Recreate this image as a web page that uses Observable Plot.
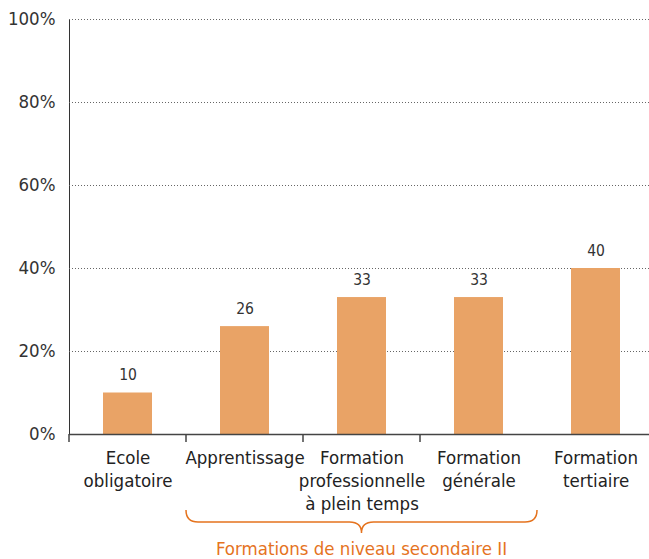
<!DOCTYPE html>
<html>
<head>
<meta charset="utf-8">
<script src="https://cdn.jsdelivr.net/npm/d3@7"></script>
<script src="https://cdn.jsdelivr.net/npm/@observablehq/plot@0.6"></script>
<style>
  html, body { margin: 0; padding: 0; background: #fff; }
  #chart svg { display: block; }
</style>
</head>
<body>
<div id="chart"></div>
<script>
const categories = [
  "Ecole\nobligatoire",
  "Apprentissage",
  "Formation\nprofessionnelle\nà plein temps",
  "Formation\ngénérale",
  "Formation\ntertiaire"
];
const values = [10, 26, 33, 33, 40];
const yTicks = [0, 20, 40, 60, 80, 100];
const groupLabel = "Formations de niveau secondaire II";
const groupFirst = categories[1];
const groupLast = categories[3];

const FONT = '"DejaVu Sans Condensed", "Liberation Sans Narrow", "Liberation Sans", sans-serif';
const BAR = "#E9A366";
const ORANGE = "#E5731E";

const rows = categories.map((c, i) => ({cat: c, value: values[i]}));

const plot = Plot.plot({
  width: 649,
  height: 559,
  marginLeft: 69,
  marginRight: 0,
  marginTop: 19,
  marginBottom: 125,
  style: {fontFamily: FONT, fontSize: "18.5px", color: "#333", background: "#fff"},
  x: {domain: categories, range: [69, 654], padding: 0, axis: null},
  y: {domain: [0, 100], ticks: yTicks, tickFormat: d => d + "%", tickSize: 0, tickPadding: 14, label: null, line: true},
  marks: [
    Plot.ruleY(yTicks.slice(1), {stroke: "#666", strokeDasharray: "1,2", strokeWidth: 1}),
    Plot.barY(rows, {x: "cat", y: "value", fill: BAR, insetLeft: 34, insetRight: 34}),
    Plot.text(rows, {x: "cat", y: "value", text: d => String(d.value), lineAnchor: "bottom", dy: -13, fontSize: 15.5, fill: "#333"}),
    Plot.text(rows, {x: "cat", y: 0, text: "cat", lineAnchor: "top", dy: 13, fontSize: 18.5, lineHeight: 1.24, fill: "#222"}),
    Plot.ruleY([0], {stroke: "#444", strokeWidth: 1.5})
  ]
});

document.getElementById("chart").appendChild(plot);

// band-boundary ticks and brace, positioned from the plot's own scales
const sx = plot.scale("x");
const sy = plot.scale("y");
const bw = sx.bandwidth;
const y0 = sy.apply(0);
const svg = d3.select(plot);
const g = svg.append("g");
categories.slice(0, 4).forEach(c => {
  const x = sx.apply(c);
  g.append("line").attr("x1", x).attr("x2", x).attr("y1", y0).attr("y2", y0 + 8)
    .attr("stroke", "#444").attr("stroke-width", 1.5);
});

const xa = sx.apply(groupFirst);
const xb = sx.apply(groupLast) + bw;
const xm = (xa + xb) / 2;
const bTop = y0 + 76, bMid = y0 + 88, bTip = y0 + 99, r = 12;
const path = `M${xa},${bTop} Q${xa},${bMid} ${xa + r},${bMid} L${xm - r},${bMid} Q${xm},${bMid} ${xm},${bTip} Q${xm},${bMid} ${xm + r},${bMid} L${xb - r},${bMid} Q${xb},${bMid} ${xb},${bTop}`;
g.append("path").attr("d", path).attr("fill", "none").attr("stroke", ORANGE).attr("stroke-width", 1.5);
g.append("text").attr("x", xm).attr("y", y0 + 121).attr("text-anchor", "middle")
  .attr("fill", ORANGE).style("font-size", "18.5px").style("font-family", FONT).text(groupLabel);
</script>
</body>
</html>
